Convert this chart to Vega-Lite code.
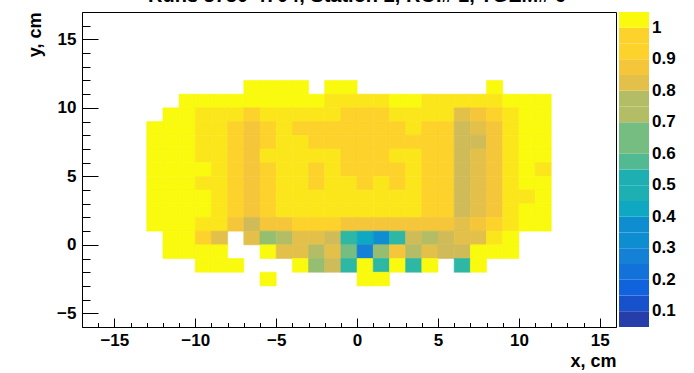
{
  "$schema": "https://vega.github.io/schema/vega-lite/v6.json",
  "width": 534,
  "height": 315,
  "autosize": {"type": "none"},
  "padding": {"left": 82, "top": 12, "right": 78, "bottom": 46},
  "background": "white",
  "title": {"text": "Runs 3730-4704, Station 2, ROI# 1, TGEM# 6", "font": "Liberation Sans", "fontSize": 20, "fontWeight": "bold", "color": "black", "anchor": "start", "frame": "group", "baseline": "alphabetic", "offset": 0, "dy": 10, "dx": 66},
  "config": {
    "view": {"stroke": "black", "strokeWidth": 1},
    "axis": {"labelFont": "Liberation Sans", "labelFontWeight": "bold", "labelFontSize": 17, "labelColor": "black", "titleFont": "Liberation Sans", "titleFontWeight": "bold", "titleFontSize": 18, "titleColor": "black", "domain": false, "grid": false, "tickColor": "black", "labelOverlap": false},
    "legend": {"labelFont": "Liberation Sans", "labelFontWeight": "bold", "labelFontSize": 17, "labelColor": "black"}
  },
  "data": {"values": [
    {"x":-7,"x2":-6,"y":11,"y2":12,"v":1.03},{"x":-6,"x2":-5,"y":11,"y2":12,"v":1.03},{"x":-5,"x2":-4,"y":11,"y2":12,"v":1.03},{"x":-4,"x2":-3,"y":11,"y2":12,"v":1.03},{"x":-2,"x2":-1,"y":11,"y2":12,"v":1.03},{"x":-1,"x2":0,"y":11,"y2":12,"v":1.03},{"x":8,"x2":9,"y":11,"y2":12,"v":1.03},
    {"x":-11,"x2":-10,"y":10,"y2":11,"v":1.03},{"x":-10,"x2":-9,"y":10,"y2":11,"v":1.03},{"x":-9,"x2":-8,"y":10,"y2":11,"v":1.03},{"x":-8,"x2":-7,"y":10,"y2":11,"v":1.03},{"x":-7,"x2":-6,"y":10,"y2":11,"v":1.03},{"x":-6,"x2":-5,"y":10,"y2":11,"v":1.03},{"x":-5,"x2":-4,"y":10,"y2":11,"v":1.03},{"x":-4,"x2":-3,"y":10,"y2":11,"v":1.03},{"x":-3,"x2":-2,"y":10,"y2":11,"v":1.03},{"x":-2,"x2":-1,"y":10,"y2":11,"v":0.98},{"x":-1,"x2":0,"y":10,"y2":11,"v":0.98},{"x":0,"x2":1,"y":10,"y2":11,"v":0.98},{"x":1,"x2":2,"y":10,"y2":11,"v":0.98},{"x":2,"x2":3,"y":10,"y2":11,"v":1.03},{"x":3,"x2":4,"y":10,"y2":11,"v":1.03},{"x":4,"x2":5,"y":10,"y2":11,"v":0.98},{"x":5,"x2":6,"y":10,"y2":11,"v":0.98},{"x":6,"x2":7,"y":10,"y2":11,"v":0.98},{"x":7,"x2":8,"y":10,"y2":11,"v":0.98},{"x":8,"x2":9,"y":10,"y2":11,"v":0.98},{"x":9,"x2":10,"y":10,"y2":11,"v":1.03},{"x":10,"x2":11,"y":10,"y2":11,"v":1.03},{"x":11,"x2":12,"y":10,"y2":11,"v":1.03},
    {"x":-12,"x2":-11,"y":9,"y2":10,"v":1.03},{"x":-11,"x2":-10,"y":9,"y2":10,"v":1.03},{"x":-10,"x2":-9,"y":9,"y2":10,"v":0.98},{"x":-9,"x2":-8,"y":9,"y2":10,"v":0.98},{"x":-8,"x2":-7,"y":9,"y2":10,"v":0.98},{"x":-7,"x2":-6,"y":9,"y2":10,"v":0.93},{"x":-6,"x2":-5,"y":9,"y2":10,"v":0.98},{"x":-5,"x2":-4,"y":9,"y2":10,"v":0.98},{"x":-4,"x2":-3,"y":9,"y2":10,"v":0.98},{"x":-3,"x2":-2,"y":9,"y2":10,"v":0.98},{"x":-2,"x2":-1,"y":9,"y2":10,"v":0.98},{"x":-1,"x2":0,"y":9,"y2":10,"v":0.93},{"x":0,"x2":1,"y":9,"y2":10,"v":0.93},{"x":1,"x2":2,"y":9,"y2":10,"v":0.93},{"x":2,"x2":3,"y":9,"y2":10,"v":0.98},{"x":3,"x2":4,"y":9,"y2":10,"v":0.98},{"x":4,"x2":5,"y":9,"y2":10,"v":0.98},{"x":5,"x2":6,"y":9,"y2":10,"v":0.98},{"x":6,"x2":7,"y":9,"y2":10,"v":0.83},{"x":7,"x2":8,"y":9,"y2":10,"v":0.88},{"x":8,"x2":9,"y":9,"y2":10,"v":0.93},{"x":9,"x2":10,"y":9,"y2":10,"v":0.98},{"x":10,"x2":11,"y":9,"y2":10,"v":1.03},{"x":11,"x2":12,"y":9,"y2":10,"v":1.03},
    {"x":-13,"x2":-12,"y":8,"y2":9,"v":1.03},{"x":-12,"x2":-11,"y":8,"y2":9,"v":1.03},{"x":-11,"x2":-10,"y":8,"y2":9,"v":1.03},{"x":-10,"x2":-9,"y":8,"y2":9,"v":0.98},{"x":-9,"x2":-8,"y":8,"y2":9,"v":0.98},{"x":-8,"x2":-7,"y":8,"y2":9,"v":0.93},{"x":-7,"x2":-6,"y":8,"y2":9,"v":0.88},{"x":-6,"x2":-5,"y":8,"y2":9,"v":0.93},{"x":-5,"x2":-4,"y":8,"y2":9,"v":0.98},{"x":-4,"x2":-3,"y":8,"y2":9,"v":0.93},{"x":-3,"x2":-2,"y":8,"y2":9,"v":0.93},{"x":-2,"x2":-1,"y":8,"y2":9,"v":0.93},{"x":-1,"x2":0,"y":8,"y2":9,"v":0.93},{"x":0,"x2":1,"y":8,"y2":9,"v":0.93},{"x":1,"x2":2,"y":8,"y2":9,"v":0.93},{"x":2,"x2":3,"y":8,"y2":9,"v":0.93},{"x":3,"x2":4,"y":8,"y2":9,"v":0.98},{"x":4,"x2":5,"y":8,"y2":9,"v":0.93},{"x":5,"x2":6,"y":8,"y2":9,"v":0.93},{"x":6,"x2":7,"y":8,"y2":9,"v":0.78},{"x":7,"x2":8,"y":8,"y2":9,"v":0.83},{"x":8,"x2":9,"y":8,"y2":9,"v":0.88},{"x":9,"x2":10,"y":8,"y2":9,"v":0.98},{"x":10,"x2":11,"y":8,"y2":9,"v":1.03},{"x":11,"x2":12,"y":8,"y2":9,"v":1.03},
    {"x":-13,"x2":-12,"y":7,"y2":8,"v":1.03},{"x":-12,"x2":-11,"y":7,"y2":8,"v":1.03},{"x":-11,"x2":-10,"y":7,"y2":8,"v":1.03},{"x":-10,"x2":-9,"y":7,"y2":8,"v":0.98},{"x":-9,"x2":-8,"y":7,"y2":8,"v":0.98},{"x":-8,"x2":-7,"y":7,"y2":8,"v":0.93},{"x":-7,"x2":-6,"y":7,"y2":8,"v":0.88},{"x":-6,"x2":-5,"y":7,"y2":8,"v":0.93},{"x":-5,"x2":-4,"y":7,"y2":8,"v":0.98},{"x":-4,"x2":-3,"y":7,"y2":8,"v":0.98},{"x":-3,"x2":-2,"y":7,"y2":8,"v":0.93},{"x":-2,"x2":-1,"y":7,"y2":8,"v":0.93},{"x":-1,"x2":0,"y":7,"y2":8,"v":0.93},{"x":0,"x2":1,"y":7,"y2":8,"v":0.93},{"x":1,"x2":2,"y":7,"y2":8,"v":0.93},{"x":2,"x2":3,"y":7,"y2":8,"v":0.93},{"x":3,"x2":4,"y":7,"y2":8,"v":0.93},{"x":4,"x2":5,"y":7,"y2":8,"v":0.93},{"x":5,"x2":6,"y":7,"y2":8,"v":0.93},{"x":6,"x2":7,"y":7,"y2":8,"v":0.78},{"x":7,"x2":8,"y":7,"y2":8,"v":0.78},{"x":8,"x2":9,"y":7,"y2":8,"v":0.88},{"x":9,"x2":10,"y":7,"y2":8,"v":0.98},{"x":10,"x2":11,"y":7,"y2":8,"v":1.03},{"x":11,"x2":12,"y":7,"y2":8,"v":1.03},
    {"x":-13,"x2":-12,"y":6,"y2":7,"v":1.03},{"x":-12,"x2":-11,"y":6,"y2":7,"v":1.03},{"x":-11,"x2":-10,"y":6,"y2":7,"v":1.03},{"x":-10,"x2":-9,"y":6,"y2":7,"v":0.98},{"x":-9,"x2":-8,"y":6,"y2":7,"v":0.98},{"x":-8,"x2":-7,"y":6,"y2":7,"v":0.93},{"x":-7,"x2":-6,"y":6,"y2":7,"v":0.88},{"x":-6,"x2":-5,"y":6,"y2":7,"v":0.98},{"x":-5,"x2":-4,"y":6,"y2":7,"v":0.98},{"x":-4,"x2":-3,"y":6,"y2":7,"v":0.98},{"x":-3,"x2":-2,"y":6,"y2":7,"v":0.98},{"x":-2,"x2":-1,"y":6,"y2":7,"v":0.98},{"x":-1,"x2":0,"y":6,"y2":7,"v":0.93},{"x":0,"x2":1,"y":6,"y2":7,"v":0.93},{"x":1,"x2":2,"y":6,"y2":7,"v":0.93},{"x":2,"x2":3,"y":6,"y2":7,"v":0.98},{"x":3,"x2":4,"y":6,"y2":7,"v":0.98},{"x":4,"x2":5,"y":6,"y2":7,"v":0.93},{"x":5,"x2":6,"y":6,"y2":7,"v":0.93},{"x":6,"x2":7,"y":6,"y2":7,"v":0.78},{"x":7,"x2":8,"y":6,"y2":7,"v":0.83},{"x":8,"x2":9,"y":6,"y2":7,"v":0.88},{"x":9,"x2":10,"y":6,"y2":7,"v":0.98},{"x":10,"x2":11,"y":6,"y2":7,"v":1.03},{"x":11,"x2":12,"y":6,"y2":7,"v":1.03},
    {"x":-13,"x2":-12,"y":5,"y2":6,"v":1.03},{"x":-12,"x2":-11,"y":5,"y2":6,"v":1.03},{"x":-11,"x2":-10,"y":5,"y2":6,"v":1.03},{"x":-10,"x2":-9,"y":5,"y2":6,"v":1.03},{"x":-9,"x2":-8,"y":5,"y2":6,"v":0.98},{"x":-8,"x2":-7,"y":5,"y2":6,"v":0.93},{"x":-7,"x2":-6,"y":5,"y2":6,"v":0.88},{"x":-6,"x2":-5,"y":5,"y2":6,"v":0.93},{"x":-5,"x2":-4,"y":5,"y2":6,"v":0.98},{"x":-4,"x2":-3,"y":5,"y2":6,"v":0.98},{"x":-3,"x2":-2,"y":5,"y2":6,"v":0.93},{"x":-2,"x2":-1,"y":5,"y2":6,"v":0.98},{"x":-1,"x2":0,"y":5,"y2":6,"v":0.93},{"x":0,"x2":1,"y":5,"y2":6,"v":0.93},{"x":1,"x2":2,"y":5,"y2":6,"v":0.93},{"x":2,"x2":3,"y":5,"y2":6,"v":0.93},{"x":3,"x2":4,"y":5,"y2":6,"v":0.98},{"x":4,"x2":5,"y":5,"y2":6,"v":0.93},{"x":5,"x2":6,"y":5,"y2":6,"v":0.93},{"x":6,"x2":7,"y":5,"y2":6,"v":0.78},{"x":7,"x2":8,"y":5,"y2":6,"v":0.83},{"x":8,"x2":9,"y":5,"y2":6,"v":0.88},{"x":9,"x2":10,"y":5,"y2":6,"v":0.98},{"x":10,"x2":11,"y":5,"y2":6,"v":1.03},{"x":11,"x2":12,"y":5,"y2":6,"v":0.98},
    {"x":-13,"x2":-12,"y":4,"y2":5,"v":1.03},{"x":-12,"x2":-11,"y":4,"y2":5,"v":1.03},{"x":-11,"x2":-10,"y":4,"y2":5,"v":1.03},{"x":-10,"x2":-9,"y":4,"y2":5,"v":0.98},{"x":-9,"x2":-8,"y":4,"y2":5,"v":0.98},{"x":-8,"x2":-7,"y":4,"y2":5,"v":0.93},{"x":-7,"x2":-6,"y":4,"y2":5,"v":0.88},{"x":-6,"x2":-5,"y":4,"y2":5,"v":0.93},{"x":-5,"x2":-4,"y":4,"y2":5,"v":0.98},{"x":-4,"x2":-3,"y":4,"y2":5,"v":0.98},{"x":-3,"x2":-2,"y":4,"y2":5,"v":0.93},{"x":-2,"x2":-1,"y":4,"y2":5,"v":0.98},{"x":-1,"x2":0,"y":4,"y2":5,"v":0.98},{"x":0,"x2":1,"y":4,"y2":5,"v":0.93},{"x":1,"x2":2,"y":4,"y2":5,"v":0.98},{"x":2,"x2":3,"y":4,"y2":5,"v":0.93},{"x":3,"x2":4,"y":4,"y2":5,"v":0.98},{"x":4,"x2":5,"y":4,"y2":5,"v":0.93},{"x":5,"x2":6,"y":4,"y2":5,"v":0.93},{"x":6,"x2":7,"y":4,"y2":5,"v":0.78},{"x":7,"x2":8,"y":4,"y2":5,"v":0.83},{"x":8,"x2":9,"y":4,"y2":5,"v":0.88},{"x":9,"x2":10,"y":4,"y2":5,"v":0.98},{"x":10,"x2":11,"y":4,"y2":5,"v":1.03},{"x":11,"x2":12,"y":4,"y2":5,"v":1.03},
    {"x":-13,"x2":-12,"y":3,"y2":4,"v":1.03},{"x":-12,"x2":-11,"y":3,"y2":4,"v":1.03},{"x":-11,"x2":-10,"y":3,"y2":4,"v":1.03},{"x":-10,"x2":-9,"y":3,"y2":4,"v":1.03},{"x":-9,"x2":-8,"y":3,"y2":4,"v":0.98},{"x":-8,"x2":-7,"y":3,"y2":4,"v":0.93},{"x":-7,"x2":-6,"y":3,"y2":4,"v":0.88},{"x":-6,"x2":-5,"y":3,"y2":4,"v":0.93},{"x":-5,"x2":-4,"y":3,"y2":4,"v":0.98},{"x":-4,"x2":-3,"y":3,"y2":4,"v":0.98},{"x":-3,"x2":-2,"y":3,"y2":4,"v":0.98},{"x":-2,"x2":-1,"y":3,"y2":4,"v":0.98},{"x":-1,"x2":0,"y":3,"y2":4,"v":0.98},{"x":0,"x2":1,"y":3,"y2":4,"v":0.98},{"x":1,"x2":2,"y":3,"y2":4,"v":0.98},{"x":2,"x2":3,"y":3,"y2":4,"v":0.98},{"x":3,"x2":4,"y":3,"y2":4,"v":0.98},{"x":4,"x2":5,"y":3,"y2":4,"v":0.93},{"x":5,"x2":6,"y":3,"y2":4,"v":0.93},{"x":6,"x2":7,"y":3,"y2":4,"v":0.78},{"x":7,"x2":8,"y":3,"y2":4,"v":0.83},{"x":8,"x2":9,"y":3,"y2":4,"v":0.88},{"x":9,"x2":10,"y":3,"y2":4,"v":0.98},{"x":10,"x2":11,"y":3,"y2":4,"v":0.98},{"x":11,"x2":12,"y":3,"y2":4,"v":1.03},
    {"x":-13,"x2":-12,"y":2,"y2":3,"v":1.03},{"x":-12,"x2":-11,"y":2,"y2":3,"v":1.03},{"x":-11,"x2":-10,"y":2,"y2":3,"v":1.03},{"x":-10,"x2":-9,"y":2,"y2":3,"v":1.03},{"x":-9,"x2":-8,"y":2,"y2":3,"v":0.98},{"x":-8,"x2":-7,"y":2,"y2":3,"v":0.93},{"x":-7,"x2":-6,"y":2,"y2":3,"v":0.88},{"x":-6,"x2":-5,"y":2,"y2":3,"v":0.93},{"x":-5,"x2":-4,"y":2,"y2":3,"v":0.98},{"x":-4,"x2":-3,"y":2,"y2":3,"v":0.98},{"x":-3,"x2":-2,"y":2,"y2":3,"v":0.98},{"x":-2,"x2":-1,"y":2,"y2":3,"v":0.98},{"x":-1,"x2":0,"y":2,"y2":3,"v":0.98},{"x":0,"x2":1,"y":2,"y2":3,"v":0.98},{"x":1,"x2":2,"y":2,"y2":3,"v":0.98},{"x":2,"x2":3,"y":2,"y2":3,"v":0.98},{"x":3,"x2":4,"y":2,"y2":3,"v":0.98},{"x":4,"x2":5,"y":2,"y2":3,"v":0.93},{"x":5,"x2":6,"y":2,"y2":3,"v":0.93},{"x":6,"x2":7,"y":2,"y2":3,"v":0.78},{"x":7,"x2":8,"y":2,"y2":3,"v":0.83},{"x":8,"x2":9,"y":2,"y2":3,"v":0.88},{"x":9,"x2":10,"y":2,"y2":3,"v":0.98},{"x":10,"x2":11,"y":2,"y2":3,"v":1.03},{"x":11,"x2":12,"y":2,"y2":3,"v":1.03},
    {"x":-13,"x2":-12,"y":1,"y2":2,"v":1.03},{"x":-12,"x2":-11,"y":1,"y2":2,"v":1.03},{"x":-11,"x2":-10,"y":1,"y2":2,"v":1.03},{"x":-10,"x2":-9,"y":1,"y2":2,"v":0.98},{"x":-9,"x2":-8,"y":1,"y2":2,"v":0.98},{"x":-8,"x2":-7,"y":1,"y2":2,"v":0.88},{"x":-7,"x2":-6,"y":1,"y2":2,"v":0.78},{"x":-6,"x2":-5,"y":1,"y2":2,"v":0.88},{"x":-5,"x2":-4,"y":1,"y2":2,"v":0.88},{"x":-4,"x2":-3,"y":1,"y2":2,"v":0.93},{"x":-3,"x2":-2,"y":1,"y2":2,"v":0.93},{"x":-2,"x2":-1,"y":1,"y2":2,"v":0.93},{"x":-1,"x2":0,"y":1,"y2":2,"v":0.88},{"x":0,"x2":1,"y":1,"y2":2,"v":0.88},{"x":1,"x2":2,"y":1,"y2":2,"v":0.88},{"x":2,"x2":3,"y":1,"y2":2,"v":0.88},{"x":3,"x2":4,"y":1,"y2":2,"v":0.88},{"x":4,"x2":5,"y":1,"y2":2,"v":0.88},{"x":5,"x2":6,"y":1,"y2":2,"v":0.88},{"x":6,"x2":7,"y":1,"y2":2,"v":0.83},{"x":7,"x2":8,"y":1,"y2":2,"v":0.88},{"x":8,"x2":9,"y":1,"y2":2,"v":0.93},{"x":9,"x2":10,"y":1,"y2":2,"v":0.98},{"x":10,"x2":11,"y":1,"y2":2,"v":1.03},{"x":11,"x2":12,"y":1,"y2":2,"v":1.03},
    {"x":-12,"x2":-11,"y":0,"y2":1,"v":1.03},{"x":-11,"x2":-10,"y":0,"y2":1,"v":1.03},{"x":-10,"x2":-9,"y":0,"y2":1,"v":0.93},{"x":-9,"x2":-8,"y":0,"y2":1,"v":0.83},{"x":-7,"x2":-6,"y":0,"y2":1,"v":0.83},{"x":-6,"x2":-5,"y":0,"y2":1,"v":0.68},{"x":-5,"x2":-4,"y":0,"y2":1,"v":0.73},{"x":-4,"x2":-3,"y":0,"y2":1,"v":0.83},{"x":-3,"x2":-2,"y":0,"y2":1,"v":0.83},{"x":-2,"x2":-1,"y":0,"y2":1,"v":0.78},{"x":-1,"x2":0,"y":0,"y2":1,"v":0.53},{"x":0,"x2":1,"y":0,"y2":1,"v":0.43},{"x":1,"x2":2,"y":0,"y2":1,"v":0.33},{"x":2,"x2":3,"y":0,"y2":1,"v":0.53},{"x":3,"x2":4,"y":0,"y2":1,"v":0.78},{"x":4,"x2":5,"y":0,"y2":1,"v":0.73},{"x":5,"x2":6,"y":0,"y2":1,"v":0.78},{"x":6,"x2":7,"y":0,"y2":1,"v":0.83},{"x":7,"x2":8,"y":0,"y2":1,"v":0.83},{"x":8,"x2":9,"y":0,"y2":1,"v":0.98},{"x":9,"x2":10,"y":0,"y2":1,"v":1.03},
    {"x":-12,"x2":-11,"y":-1,"y2":0,"v":1.03},{"x":-11,"x2":-10,"y":-1,"y2":0,"v":1.03},{"x":-10,"x2":-9,"y":-1,"y2":0,"v":1.03},{"x":-9,"x2":-8,"y":-1,"y2":0,"v":1.03},{"x":-6,"x2":-5,"y":-1,"y2":0,"v":1.03},{"x":-5,"x2":-4,"y":-1,"y2":0,"v":0.83},{"x":-4,"x2":-3,"y":-1,"y2":0,"v":0.83},{"x":-3,"x2":-2,"y":-1,"y2":0,"v":0.73},{"x":-2,"x2":-1,"y":-1,"y2":0,"v":0.83},{"x":-1,"x2":0,"y":-1,"y2":0,"v":0.63},{"x":0,"x2":1,"y":-1,"y2":0,"v":0.28},{"x":1,"x2":2,"y":-1,"y2":0,"v":0.68},{"x":2,"x2":3,"y":-1,"y2":0,"v":0.88},{"x":3,"x2":4,"y":-1,"y2":0,"v":0.73},{"x":4,"x2":5,"y":-1,"y2":0,"v":0.83},{"x":5,"x2":6,"y":-1,"y2":0,"v":0.78},{"x":6,"x2":7,"y":-1,"y2":0,"v":0.78},{"x":7,"x2":8,"y":-1,"y2":0,"v":1.03},{"x":8,"x2":9,"y":-1,"y2":0,"v":1.03},{"x":9,"x2":10,"y":-1,"y2":0,"v":1.03},
    {"x":-10,"x2":-9,"y":-2,"y2":-1,"v":1.03},{"x":-9,"x2":-8,"y":-2,"y2":-1,"v":1.03},{"x":-8,"x2":-7,"y":-2,"y2":-1,"v":1.03},{"x":-4,"x2":-3,"y":-2,"y2":-1,"v":1.03},{"x":-3,"x2":-2,"y":-2,"y2":-1,"v":0.68},{"x":-2,"x2":-1,"y":-2,"y2":-1,"v":0.78},{"x":-1,"x2":0,"y":-2,"y2":-1,"v":0.53},{"x":0,"x2":1,"y":-2,"y2":-1,"v":1.03},{"x":1,"x2":2,"y":-2,"y2":-1,"v":0.53},{"x":2,"x2":3,"y":-2,"y2":-1,"v":1.03},{"x":3,"x2":4,"y":-2,"y2":-1,"v":0.53},{"x":4,"x2":5,"y":-2,"y2":-1,"v":1.03},{"x":6,"x2":7,"y":-2,"y2":-1,"v":0.53},{"x":7,"x2":8,"y":-2,"y2":-1,"v":1.03},
    {"x":-6,"x2":-5,"y":-3,"y2":-2,"v":1.03},{"x":0,"x2":1,"y":-3,"y2":-2,"v":1.03},{"x":1,"x2":2,"y":-3,"y2":-2,"v":1.03}
  ]},
  "layer": [
    {
      "mark": {"type": "rect", "strokeWidth": 0.6},
      "encoding": {
        "x": {"field": "x", "type": "quantitative", "scale": {"domain": [-17, 16], "nice": false, "zero": false},
              "axis": {"orient": "bottom", "values": [-15, -10, -5, 0, 5, 10, 15], "tickSize": -9, "labelPadding": 14, "title": "x, cm", "titleAnchor": "end", "titlePadding": 4}},
        "x2": {"field": "x2"},
        "y": {"field": "y", "type": "quantitative", "scale": {"domain": [-6, 17], "nice": false, "zero": false},
              "axis": {"orient": "left", "values": [-5, 0, 5, 10, 15], "tickSize": -16, "labelPadding": 22, "title": "y, cm", "titleAnchor": "end", "titlePadding": 12}},
        "y2": {"field": "y2"},
        "color": {"field": "v", "type": "quantitative",
                  "scale": {"type": "quantize", "domain": [0.05, 1.05], "nice": false, "zero": false,
                            "range": ["#263ea9", "#1752cc", "#1063dc", "#1272d9", "#1480d6", "#0e8ed1", "#099dcc", "#0ea8c2", "#1eafb3", "#2eb7a4", "#51ba92", "#75bd80", "#96be71", "#b3bd65", "#d0bb59", "#e3c04a", "#f5c63a", "#fdd22b", "#fbe61c", "#f9fa0e"]},
                  "legend": {"type": "gradient", "orient": "none", "legendX": 537, "legendY": 0, "direction": "vertical", "gradientLength": 315, "gradientThickness": 30, "title": null,
                             "values": [0.05, 0.1, 0.15, 0.2, 0.25, 0.3, 0.35, 0.4, 0.45, 0.5, 0.55, 0.6, 0.65, 0.7, 0.75, 0.8, 0.85, 0.9, 0.95, 1.0, 1.05],
                             "labelExpr": "abs(datum.value * 10 - round(datum.value * 10)) < 0.01 ? format(datum.value, '~g') : ''",
                             "labelOverlap": false, "labelOffset": 3, "gradientStrokeWidth": 0}},
        "stroke": {"field": "v", "type": "quantitative", "legend": null,
                  "scale": {"type": "quantize", "domain": [0.05, 1.05], "nice": false, "zero": false,
                            "range": ["#263ea9", "#1752cc", "#1063dc", "#1272d9", "#1480d6", "#0e8ed1", "#099dcc", "#0ea8c2", "#1eafb3", "#2eb7a4", "#51ba92", "#75bd80", "#96be71", "#b3bd65", "#d0bb59", "#e3c04a", "#f5c63a", "#fdd22b", "#fbe61c", "#f9fa0e"]}}
      }
    },
    {
      "mark": {"type": "rect", "opacity": 0},
      "encoding": {
        "x": {"field": "x", "type": "quantitative", "axis": {"orient": "bottom", "values": [-17,-16,-14,-13,-12,-11,-9,-8,-7,-6,-4,-3,-2,-1,1,2,3,4,6,7,8,9,11,12,13,14,16], "tickSize": -4.5, "labels": false, "title": null}},
        "x2": {"field": "x2"},
        "y": {"field": "y", "type": "quantitative", "axis": {"orient": "left", "values": [-6,-4,-3,-2,-1,1,2,3,4,6,7,8,9,11,12,13,14,16,17], "tickSize": -8, "labels": false, "title": null}},
        "y2": {"field": "y2"}
      }
    }
  ],
  "resolve": {"axis": {"x": "independent", "y": "independent"}}
}
